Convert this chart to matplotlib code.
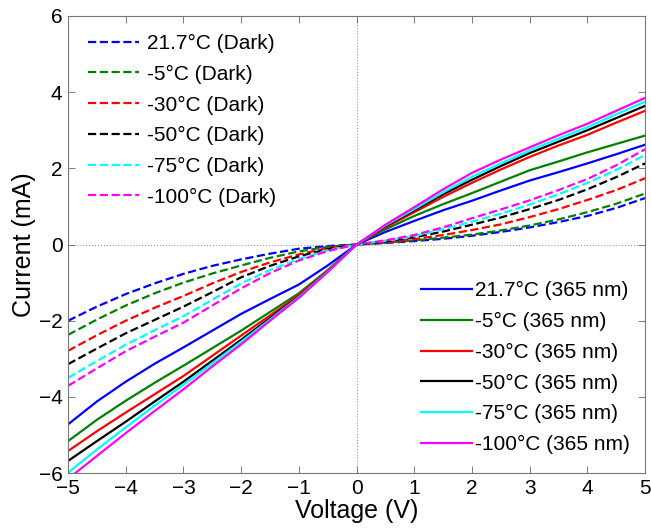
import matplotlib
matplotlib.use("Agg")
import matplotlib.pyplot as plt

plt.rcParams['font.family'] = ['Liberation Sans', 'DejaVu Sans']

# Voltage sweep (V)
voltage = [-5, -4.5, -4, -3.5, -3, -2.5, -2, -1.5, -1, -0.5, 0,
           0.5, 1, 1.5, 2, 2.5, 3, 3.5, 4, 4.5, 5]

# Dark current (mA)
dark_217 = [-2.0, -1.63, -1.3, -1.02, -0.77, -0.56, -0.39, -0.24, -0.11, -0.04, 0,
            0.04, 0.09, 0.15, 0.23, 0.33, 0.45, 0.59, 0.75, 0.96, 1.22]
dark_m5 = [-2.37, -1.97, -1.6, -1.28, -1.0, -0.76, -0.55, -0.35, -0.18, -0.06, 0,
           0.05, 0.11, 0.18, 0.26, 0.37, 0.5, 0.66, 0.85, 1.07, 1.34]
dark_m30 = [-2.79, -2.38, -2.0, -1.66, -1.35, -1.02, -0.72, -0.47, -0.26, -0.09, 0,
            0.06, 0.14, 0.25, 0.38, 0.53, 0.72, 0.93, 1.17, 1.43, 1.74]
dark_m50 = [-3.14, -2.73, -2.33, -1.98, -1.63, -1.25, -0.86, -0.56, -0.31, -0.12, 0,
            0.08, 0.19, 0.34, 0.52, 0.71, 0.93, 1.17, 1.45, 1.77, 2.13]
dark_m75 = [-3.5, -3.06, -2.63, -2.25, -1.88, -1.45, -1.02, -0.67, -0.38, -0.15, 0,
            0.1, 0.22, 0.4, 0.6, 0.81, 1.05, 1.32, 1.62, 1.96, 2.35]
dark_m100 = [-3.71, -3.25, -2.8, -2.42, -2.05, -1.6, -1.15, -0.75, -0.42, -0.17, 0,
             0.11, 0.25, 0.45, 0.69, 0.92, 1.16, 1.43, 1.72, 2.08, 2.5]

# Current under 365 nm illumination (mA)
uv_217 = [-4.72, -4.12, -3.6, -3.13, -2.7, -2.26, -1.82, -1.43, -1.05, -0.55, 0,
          0.33, 0.62, 0.9, 1.15, 1.42, 1.68, 1.9, 2.13, 2.37, 2.62]
uv_m5 = [-5.16, -4.6, -4.1, -3.63, -3.18, -2.72, -2.26, -1.77, -1.28, -0.67, 0,
         0.4, 0.75, 1.06, 1.35, 1.65, 1.95, 2.18, 2.42, 2.64, 2.86]
uv_m30 = [-5.42, -4.9, -4.41, -3.93, -3.45, -2.92, -2.39, -1.86, -1.33, -0.69, 0,
          0.45, 0.85, 1.25, 1.62, 1.97, 2.3, 2.6, 2.88, 3.2, 3.51]
uv_m50 = [-5.68, -5.16, -4.65, -4.12, -3.6, -3.05, -2.5, -1.93, -1.37, -0.7, 0,
          0.48, 0.9, 1.32, 1.7, 2.06, 2.4, 2.7, 3.0, 3.32, 3.64]
uv_m75 = [-5.99, -5.38, -4.8, -4.23, -3.68, -3.12, -2.55, -1.97, -1.38, -0.71, 0,
          0.5, 0.93, 1.37, 1.78, 2.13, 2.47, 2.78, 3.08, 3.42, 3.75]
uv_m100 = [-6.15, -5.55, -4.95, -4.37, -3.8, -3.2, -2.62, -2.0, -1.4, -0.72, 0,
           0.52, 0.98, 1.45, 1.88, 2.23, 2.55, 2.87, 3.17, 3.51, 3.85]

temps = ['21.7', '-5', '-30', '-50', '-75', '-100']
colors = ['#0000ff', '#008000', '#ff0000', '#000000', '#00ffff', '#ff00ff']
dark = [dark_217, dark_m5, dark_m30, dark_m50, dark_m75, dark_m100]
uv = [uv_217, uv_m5, uv_m30, uv_m50, uv_m75, uv_m100]

fig = plt.figure(figsize=(6.51, 5.31), dpi=100)
ax = fig.add_axes([0.1045, 0.109, 0.8865, 0.861])

ax.axhline(0, color='#999999', ls=':', lw=0.8, zorder=0)
ax.axvline(0, color='#999999', ls=':', lw=0.8, zorder=0)

dark_lines = []
for t, c, y in zip(temps, colors, dark):
    ln, = ax.plot(voltage, y, '--', color=c, lw=1.6, label=t + '°C (Dark)')
    dark_lines.append(ln)
uv_lines = []
for t, c, y in zip(temps, colors, uv):
    ln, = ax.plot(voltage, y, '-', color=c, lw=1.6, label=t + '°C (365 nm)')
    uv_lines.append(ln)

ax.set_xlim(-5, 5)
ax.set_ylim(-6, 6)
ax.set_xticks(range(-5, 6))
ax.set_yticks(range(-6, 7, 2))
ax.tick_params(direction='in', top=True, right=True, labelsize=15,
               length=5, width=0.6, color='#666666', pad=4)
for s in ax.spines.values():
    s.set_color('#777777')
    s.set_linewidth(0.8)

ax.set_xlabel('Voltage (V)', fontsize=18, labelpad=1)
ax.set_ylabel('Current (mA)', fontsize=18, labelpad=2)

leg1 = fig.legend(handles=dark_lines, loc='upper left',
                  bbox_to_anchor=(0.135, 0.936), frameon=False, fontsize=15,
                  handlelength=2.45, handletextpad=0.38, labelspacing=0.56,
                  borderpad=0, borderaxespad=0)
leg2 = fig.legend(handles=uv_lines, loc='lower right',
                  bbox_to_anchor=(0.968, 0.145), frameon=False, fontsize=15,
                  handlelength=2.45, handletextpad=0.15, labelspacing=0.56,
                  borderpad=0, borderaxespad=0)

fig.savefig('out.png', dpi=100)
